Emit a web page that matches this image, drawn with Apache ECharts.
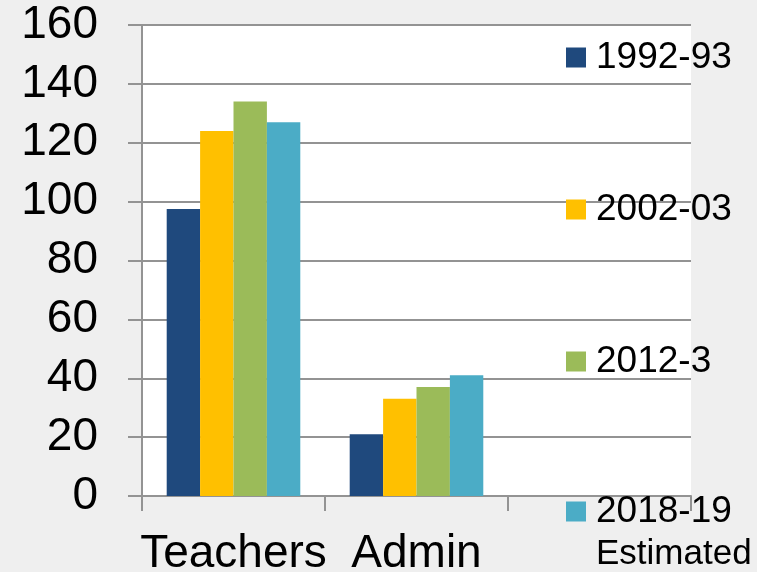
<!DOCTYPE html>
<html>
<head>
<meta charset="utf-8">
<script src="https://cdn.jsdelivr.net/npm/echarts@6/dist/echarts.min.js"></script>
<style>
html,body{margin:0;padding:0;background:#efefef;}
#chart{width:757px;height:572px;}
</style>
</head>
<body>
<div id="chart"></div>
<script>
var categories = ['Teachers', 'Admin', ''];
var seriesNames = ['1992-93', '2002-03', '2012-3', '2018-19'];
var values1992 = [97.5, 21];
var values2002 = [124, 33];
var values2012 = [134, 37];
var values2018 = [127, 41];
var yTicks = [0, 20, 40, 60, 80, 100, 120, 140, 160];

var colors = ['#1f497d', '#ffc000', '#9bbb59', '#4bacc6'];
var allValues = [values1992, values2002, values2012, values2018];
var FONT = '"Liberation Sans", Arial, sans-serif';
var GRID = '#939393';

var legendTops = [39, 191, 343, 493];
var legends = seriesNames.map(function (name, i) {
  var last = i === seriesNames.length - 1;
  return {
    data: [name],
    orient: 'vertical',
    left: 566,
    top: legendTops[i],
    padding: 0,
    icon: 'rect',
    itemWidth: 20,
    itemHeight: 20,
    selectedMode: false,
    formatter: last ? function (n) { return '{a|' + n + '}\n{b|Estimated}'; } : undefined,
    textStyle: last ? {
      padding: [65, 0, 0, 5],
      rich: {
        a: { fontSize: 37, lineHeight: 20, color: '#000', fontFamily: FONT },
        b: { fontSize: 35, lineHeight: 65, color: '#000', fontFamily: FONT }
      }
    } : {
      fontSize: 37, color: '#000', fontFamily: FONT,
      padding: [0, 0, 0, 5]
    }
  };
});

var chart = echarts.init(document.getElementById('chart'), null, { renderer: 'canvas' });
chart.setOption({
  backgroundColor: '#efefef',
  animation: false,
  color: colors,
  legend: legends,
  grid: {
    left: 142, top: 25, right: 66, bottom: 76,
    outerBoundsMode: 'none', containLabel: false,
    show: true, backgroundColor: '#ffffff', borderWidth: 0
  },
  xAxis: {
    type: 'category',
    data: categories,
    axisLine: { show: true, lineStyle: { color: GRID, width: 2 } },
    axisTick: { show: true, length: 15, lineStyle: { color: GRID, width: 2 } },
    axisLabel: { interval: 0, fontSize: 46, color: '#000', fontFamily: FONT, margin: 35 },
    splitLine: { show: false }
  },
  yAxis: {
    type: 'value',
    min: yTicks[0],
    max: yTicks[yTicks.length - 1],
    interval: yTicks[1] - yTicks[0],
    axisLine: { show: true, lineStyle: { color: GRID, width: 2 } },
    axisTick: { show: true, length: 14, lineStyle: { color: GRID, width: 2 } },
    axisLabel: { fontSize: 46, color: '#000', fontFamily: FONT, margin: 44 },
    splitLine: { show: true, lineStyle: { color: GRID, width: 2 } }
  },
  series: seriesNames.map(function (name, i) {
    return {
      name: name,
      type: 'bar',
      data: allValues[i],
      barGap: '0%',
      barCategoryGap: '27%',
      itemStyle: { color: colors[i] }
    };
  })
});
</script>
</body>
</html>
